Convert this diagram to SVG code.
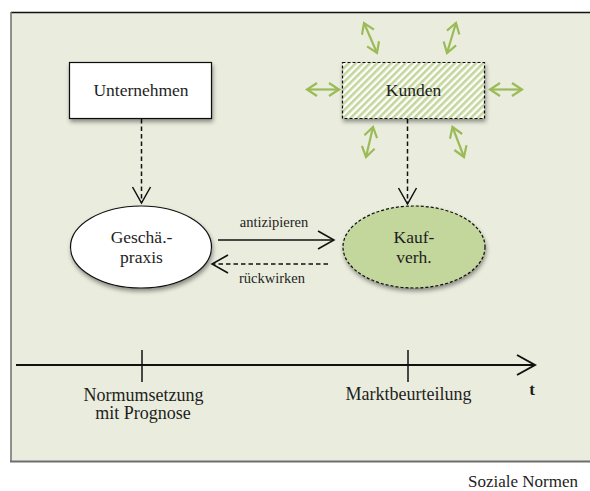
<svg xmlns="http://www.w3.org/2000/svg" width="590" height="491" viewBox="0 0 590 491" font-family="'Liberation Serif', 'Times New Roman', serif">
<defs>
<style>
text{font-family:"Liberation Serif","Times New Roman",serif;fill:#1e1e1e;}
.node{font-size:17.5px;text-anchor:middle;}
.lbl{font-size:14.5px;text-anchor:middle;}
.tl{font-size:18px;text-anchor:middle;}
.con{fill:none;stroke:#111;stroke-width:1.5;}
.dash{stroke-dasharray:4.5 3;}
.garr{fill:none;stroke:#9bbb59;stroke-width:2.2;marker-start:url(#ga);marker-end:url(#ga);}
</style>
<filter id="sh" x="-20%" y="-20%" width="150%" height="170%">
<feDropShadow dx="1" dy="3" stdDeviation="2" flood-color="#000" flood-opacity="0.4"/>
</filter>
<pattern id="hatch" patternUnits="userSpaceOnUse" width="5" height="5" patternTransform="rotate(45)">
<rect width="5" height="5" fill="#ffffff"/>
<rect width="2.6" height="5" fill="#c3d69b"/>
</pattern>
<marker id="v" viewBox="-18 -11 20 22" markerWidth="20" markerHeight="22" refX="0" refY="0" orient="auto" markerUnits="userSpaceOnUse">
<path d="M-16,-9 L0,0 L-16,9" fill="none" stroke="#111" stroke-width="1.5"/>
</marker>
<marker id="vt" viewBox="-20 -12 22 24" markerWidth="22" markerHeight="24" refX="0" refY="0" orient="auto" markerUnits="userSpaceOnUse">
<path d="M-18,-10 L0,0 L-18,10" fill="none" stroke="#111" stroke-width="2"/>
</marker>
<marker id="ga" viewBox="-13 -8 15 16" markerWidth="15" markerHeight="16" refX="0" refY="0" orient="auto-start-reverse" markerUnits="userSpaceOnUse">
<path d="M-10,-6.5 L0,0 L-10,6.5" fill="none" stroke="#9bbb59" stroke-width="2.2"/>
</marker>
</defs>

<g id="background">
<rect x="11" y="12" width="590" height="450" fill="#eaeddd"/>
<line x1="11" y1="12.5" x2="590" y2="12.5" stroke="#111" stroke-width="1.5"/>
<line x1="11" y1="12" x2="11" y2="462" stroke="#6e6e6e" stroke-width="1.5"/>
<line x1="10" y1="461.5" x2="590" y2="461.5" stroke="#6e6e6e" stroke-width="2"/>
</g>

<g id="connectors">
<line class="con dash" x1="141.5" y1="119" x2="141.5" y2="203" marker-end="url(#v)"/>
<line class="con dash" x1="407.5" y1="119" x2="407.5" y2="204" marker-end="url(#v)"/>
<line class="con" x1="218" y1="240" x2="334" y2="240" marker-end="url(#v)"/>
<line class="con dash" x1="328" y1="264" x2="212" y2="264" marker-end="url(#v)"/>
<text class="lbl" x="274" y="227">antizipieren</text>
<text class="lbl" x="272" y="283">rückwirken</text>
</g>

<g id="green-arrows">
<line class="garr" x1="364" y1="23" x2="377" y2="53"/>
<line class="garr" x1="456" y1="23" x2="447" y2="53"/>
<line class="garr" x1="307" y1="89.5" x2="339" y2="89.5"/>
<line class="garr" x1="490" y1="89.5" x2="522" y2="89.5"/>
<line class="garr" x1="373" y1="127" x2="366" y2="157"/>
<line class="garr" x1="452.5" y1="127" x2="464" y2="157"/>
</g>

<g id="unternehmen">
<rect x="69.5" y="62.5" width="142" height="56" fill="#ffffff" stroke="#111" stroke-width="1.2" filter="url(#sh)"/>
<text class="node" x="141" y="96" font-size="18">Unternehmen</text>
</g>

<g id="kunden">
<rect x="342.5" y="62.5" width="142" height="56" fill="url(#hatch)" stroke="#111" stroke-width="1.2" stroke-dasharray="3 2" filter="url(#sh)"/>
<text class="node" x="413.5" y="96">Kunden</text>
</g>

<g id="geschaeftspraxis">
<ellipse cx="141" cy="247" rx="70.5" ry="41" fill="#ffffff" stroke="#111" stroke-width="1.2" filter="url(#sh)"/>
<text class="node" x="141.5" y="243">Geschä.-</text>
<text class="node" x="141.5" y="263">praxis</text>
</g>

<g id="kaufverhalten">
<ellipse cx="414" cy="247" rx="71" ry="41" fill="#c3d69b" stroke="#111" stroke-width="1.2" stroke-dasharray="3 2" filter="url(#sh)"/>
<text class="node" x="414" y="243">Kauf-</text>
<text class="node" x="414" y="263">verh.</text>
</g>

<g id="timeline">
<line x1="16" y1="365" x2="535" y2="365" stroke="#111" stroke-width="2" marker-end="url(#vt)"/>
<line x1="142" y1="350" x2="142" y2="382" stroke="#111" stroke-width="1.5"/>
<line x1="408" y1="350" x2="408" y2="382" stroke="#111" stroke-width="1.5"/>
<text class="tl" x="143.5" y="401">Normumsetzung</text>
<text class="tl" x="143" y="419">mit Prognose</text>
<text class="tl" x="408.5" y="400">Marktbeurteilung</text>
<text x="532" y="395" font-size="17" font-weight="bold" text-anchor="middle">t</text>
</g>

<text x="578" y="487" font-size="17" text-anchor="end">Soziale Normen</text>
</svg>
